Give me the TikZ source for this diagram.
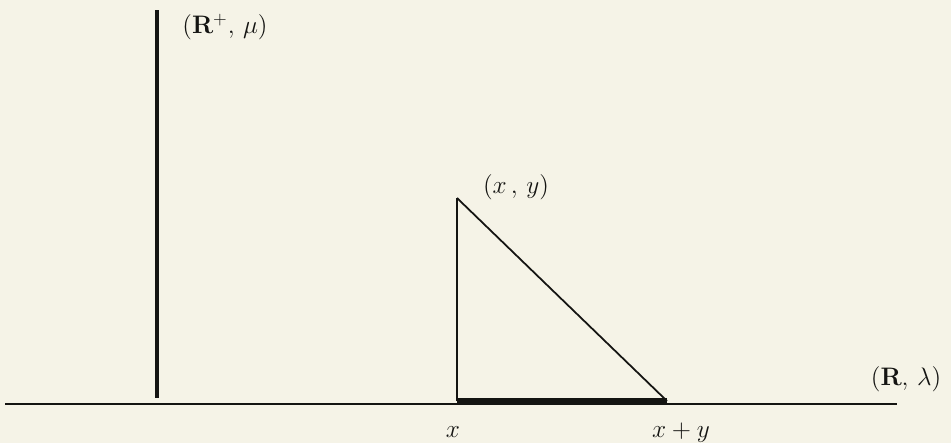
\documentclass[tikz,border=0pt]{standalone}
\usepackage{amsmath}
\usetikzlibrary{positioning}
\definecolor{paper}{RGB}{245,243,231}
\definecolor{ink}{RGB}{20,20,18}

\begin{document}
\begin{tikzpicture}[
  x=0.02cm, y=-0.02cm,
  font=\Large,
  lbl/.style={inner sep=1pt, text=ink},
  haxis/.style={draw=ink, line width=1.1pt},
  vaxis/.style={draw=ink, line width=2.2pt},
  side/.style={draw=ink, line width=1.4pt},
  hyp/.style={draw=ink, line width=1.0pt},
  base/.style={draw=ink, line width=3.8pt},
]

% -- Paper --
\fill[paper] (0,0) rectangle (951,443);
\useasboundingbox (0,0) rectangle (951,443);

% -- Axes --
\coordinate (hstart) at (5,404);
\coordinate (hend) at (897,404);
\coordinate (vtop) at (157,10);
\coordinate (vbot) at (157,398);
\draw[haxis] (hstart) -- (hend);
\draw[vaxis] (vtop) -- (vbot);

% -- Triangle --
\coordinate (apex) at (457,198);
\coordinate (left) at (457,401);
\coordinate (right) at (667,401);
\draw[side] (left) -- (apex);
\draw[hyp] (apex) -- (right);
\draw[base] (left) -- (right);

% -- Labels --
\node[lbl] (rplus) at (225,27) {$(\mathbf{R}^{+},\,\mu)$};
\node[lbl] (rline) at (906,379) {$(\mathbf{R},\,\lambda)$};
\node[lbl] (xy) at (516,187) {$(x\,,\,y)$};
\node[lbl, anchor=base] (xl) at (453,437) {$x$};
\node[lbl, anchor=base] (xpy) at (681,437) {$x+y$};

\end{tikzpicture}
\end{document}
